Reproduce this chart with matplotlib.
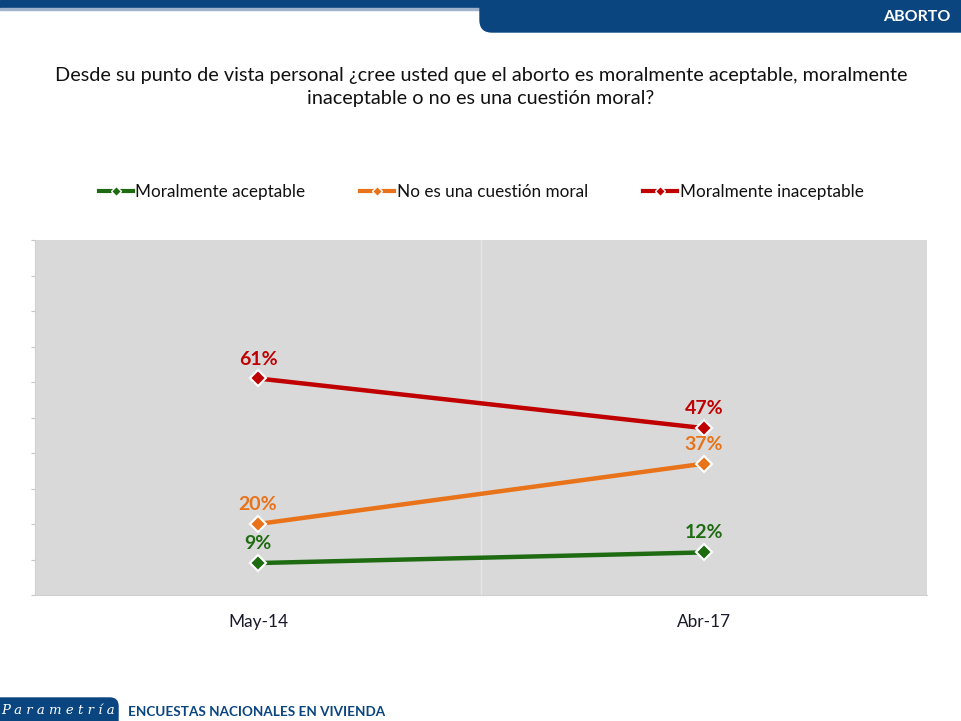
import matplotlib
matplotlib.use("Agg")
import matplotlib.pyplot as plt
from matplotlib.lines import Line2D
from matplotlib.patches import FancyBboxPatch, Rectangle

plt.rcParams['font.family'] = ['Lato', 'DejaVu Sans']

# ---- data ----
periods = ["May-14", "Abr-17"]
series_names = ["Moralmente aceptable", "No es una cuestión moral", "Moralmente inaceptable"]
aceptable = [9, 12]
no_moral = [20, 37]
inaceptable = [61, 47]
colors = ["#1E6B12", "#E8731A", "#C00000"]

title = ("Desde su punto de vista personal ¿cree usted que el aborto es moralmente aceptable, moralmente\n"
         "inaceptable o no es una cuestión moral?")

W, H = 961, 721
fig = plt.figure(figsize=(W / 100, H / 100), dpi=100)
fig.patch.set_facecolor("white")

# background / decoration axes in pixel coordinates
bg = fig.add_axes([0, 0, 1, 1])
bg.set_xlim(0, W)
bg.set_ylim(H, 0)
bg.axis("off")
navy = "#0A4580"
bg.add_patch(Rectangle((0, 0), W, 8, color=navy, zorder=1))
bg.add_patch(Rectangle((0, 8), 480, 2, color="#9FB3CC", zorder=1))
bg.add_patch(FancyBboxPatch((480, -30), 520, 62, boxstyle="round,pad=0,rounding_size=12",
                            color=navy, zorder=2))
bg.text(950, 17, "ABORTO", color="white", fontsize=11.5, fontweight="bold",
        ha="right", va="center", zorder=3)
bg.add_patch(FancyBboxPatch((-30, 698), 148, 50, boxstyle="round,pad=0,rounding_size=8",
                            color=navy, zorder=2))
bg.text(58, 711, "P a r a m e t r í a", color="white", fontsize=9.5, style="italic",
        family="DejaVu Serif", ha="center", va="center", zorder=3)
bg.text(128, 712, "ENCUESTAS NACIONALES EN VIVIENDA", color=navy, fontsize=9.7,
        fontweight="bold", ha="left", va="center", zorder=3)
bg.text(481, 87, title, ha="center", va="center", fontsize=14.3, color="#111111",
        linespacing=1.45)

# main chart axes
left, right, top, bottom = 35, 927, 240, 595
ax = fig.add_axes([left / W, 1 - bottom / H, (right - left) / W, (bottom - top) / H])
ax.set_facecolor("#D9D9D9")
x = list(range(len(periods)))
ax.set_xlim(-0.5, len(periods) - 0.5)
ax.set_ylim(0, 100)
ax.axvline(0.5, color="#E6E6E6", lw=1, zorder=1)

all_series = [aceptable, no_moral, inaceptable]
handles = []
for vals, name, c in zip(all_series, series_names, colors):
    ax.plot(x, vals, color=c, lw=3.2, marker="D", markersize=8, markerfacecolor=c,
            markeredgecolor="white", markeredgewidth=1.5, zorder=3, solid_capstyle="round")
    for xi, v in zip(x, vals):
        ax.annotate(f"{v}%", (xi, v), xytext=(0, 14), textcoords="offset points",
                    ha="center", va="center", fontsize=14, fontweight="bold", color=c,
                    zorder=5)
    handles.append(Line2D([0], [0], color=c, lw=3, marker="D", markersize=5,
                          markerfacecolor=c, markeredgecolor="white", markeredgewidth=1))

ax.set_xticks(x)
ax.set_xticklabels(periods, fontsize=12.4, color="#1a1a2a")
ax.tick_params(axis="x", length=0, pad=14)
ax.set_yticks(range(0, 101, 10))
ax.set_yticklabels([])
ax.tick_params(axis="y", length=3, color="#C8C8C8", direction="out")
for s in ["top", "right"]:
    ax.spines[s].set_visible(False)
ax.spines["left"].set_color("#D0D0D0")
ax.spines["bottom"].set_color("#D0D0D0")

fig.legend(handles, series_names, loc="center", bbox_to_anchor=(481 / W, 1 - 192 / H),
           ncol=3, frameon=False, fontsize=12.3, handlelength=2.0, handletextpad=0.15,
           columnspacing=3.2, labelcolor="#111111")

fig.savefig("out.png", dpi=100, facecolor="white")
